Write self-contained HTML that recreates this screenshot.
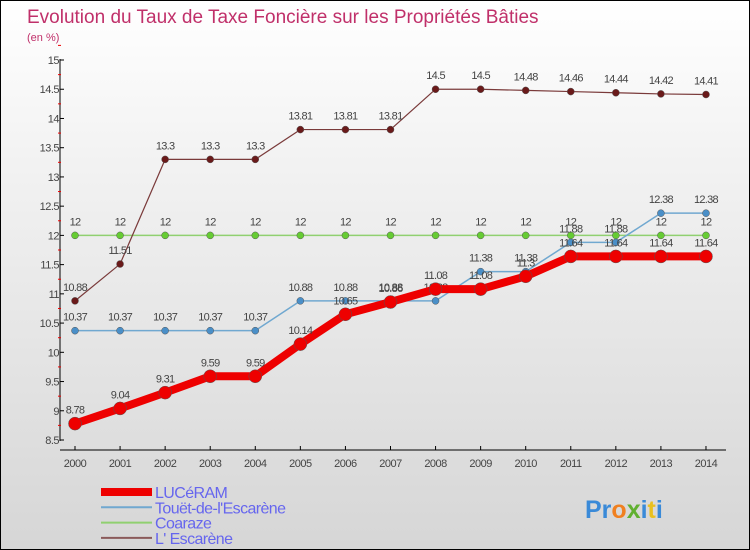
<!DOCTYPE html>
<html><head><meta charset="utf-8"><style>
body{margin:0}
#c{width:748px;height:548px;border:1px solid #000;background:linear-gradient(#fff,#f2f2f2 30%,#d6d6d6);position:relative;font-family:"Liberation Sans",sans-serif;overflow:hidden}
svg text{font-family:"Liberation Sans",sans-serif}
</style></head><body>
<div id="c">
<svg id="s" width="748" height="548">
<text x="26" y="22" font-size="19" fill="#c0306a">Evolution du Taux de Taxe Foncière sur les Propriétés Bâties</text>
<text x="26" y="40" font-size="11" fill="#c0306a">(en %)</text>
</svg>
</div>
<script>
const years=[2000,2001,2002,2003,2004,2005,2006,2007,2008,2009,2010,2011,2012,2013,2014];
const luceram=[8.78,9.04,9.31,9.59,9.59,10.14,10.65,10.86,11.08,11.08,11.3,11.64,11.64,11.64,11.64];
const touet=[10.37,10.37,10.37,10.37,10.37,10.88,10.88,10.88,10.88,11.38,11.38,11.88,11.88,12.38,12.38];
const coaraze=[12,12,12,12,12,12,12,12,12,12,12,12,12,12,12];
const escarene=[10.88,11.51,13.3,13.3,13.3,13.81,13.81,13.81,14.5,14.5,14.48,14.46,14.44,14.42,14.41];
const yTicks=[8.5,9,9.5,10,10.5,11,11.5,12,12.5,13,13.5,14,14.5,15];
const names=["LUCéRAM","Touët-de-l'Escarène","Coaraze","L' Escarène"];
const s=document.getElementById('s'),NS='http://www.w3.org/2000/svg';
const X=i=>74+i*45.07, Y=v=>439-(v-8.5)*58.46;
function mk(t,a,p){const e=document.createElementNS(NS,t);for(const k in a)e.setAttribute(k,a[k]);(p||s).appendChild(e);return e;}
let ax=mk('line',{x1:59,y1:58,x2:59,y2:440,stroke:'#000'});


let xa=mk('line',{x1:59,y1:449,x2:725,y2:449,stroke:'#000'});


yTicks.forEach(v=>{
 mk('line',{x1:59,y1:Y(v),x2:63,y2:Y(v),stroke:'#000'});
 mk('line',{x1:57,y1:Y(v+0.25),x2:60,y2:Y(v+0.25),stroke:'#e00'});
 const t=mk('text',{x:58,y:Y(v)+4,'font-size':11,fill:'#444','text-anchor':'end','letter-spacing':'-0.5'});t.textContent=v;
 
 
});
years.forEach((y,i)=>{
 mk('line',{x1:X(i),y1:445,x2:X(i),y2:449,stroke:'#000'});
 const t=mk('text',{x:X(i),y:466,'font-size':11,fill:'#444','text-anchor':'middle','letter-spacing':'-0.5'});t.textContent=y;
 
 
});
function series(d,col,w,r,dot,nm){
 const g=mk('g',{});
 
 
 mk('polyline',{points:d.map((v,i)=>X(i)+','+Y(v)).join(' '),fill:'none',stroke:col,'stroke-width':w},g);
 d.forEach((v,i)=>{
  const c=mk('circle',{cx:X(i),cy:Y(v),r:r,fill:dot,stroke:'#555','stroke-width':0.5},g);
  
  
  const t=mk('text',{x:X(i),y:Y(v)-10,'font-size':11,fill:'#444','text-anchor':'middle','letter-spacing':'-0.7'},g);t.textContent=v;
 });
}
series(coaraze,'#90d070',1.5,3.5,'#6c3','coaraze-series');
series(touet,'#70a8d0',1.5,3.5,'#4a8fc8','touet-series');
series(escarene,'#7a3a3a',1.2,3.5,'#6a1a1a','escarene-series');
series(luceram,'#ee0000',8,6.5,'#e00','luceram-series');
const lc=['#ee0000','#70a8d0','#90d070','#8a5a5a'],lw=[8,2,2,2];
names.forEach((n,i)=>{
 const y=491+i*15.3;
 const g=mk('g',{});
 
 
 mk('line',{x1:100,y1:y,x2:151,y2:y,stroke:lc[i],'stroke-width':lw[i]},g);
 const t=mk('text',{x:154,y:y+6,'font-size':16,fill:'#6666ee','letter-spacing':'-0.6'},g);t.textContent=n;
});
const lg=mk('text',{x:584,y:517,'font-size':25,'font-weight':'bold',fill:'#3a8ad8'});


lg.innerHTML='Pr<tspan fill="#f08020">o</tspan><tspan fill="#60b030">x</tspan>i<tspan fill="#e8c020">t</tspan>i';
</script>
</body></html>
